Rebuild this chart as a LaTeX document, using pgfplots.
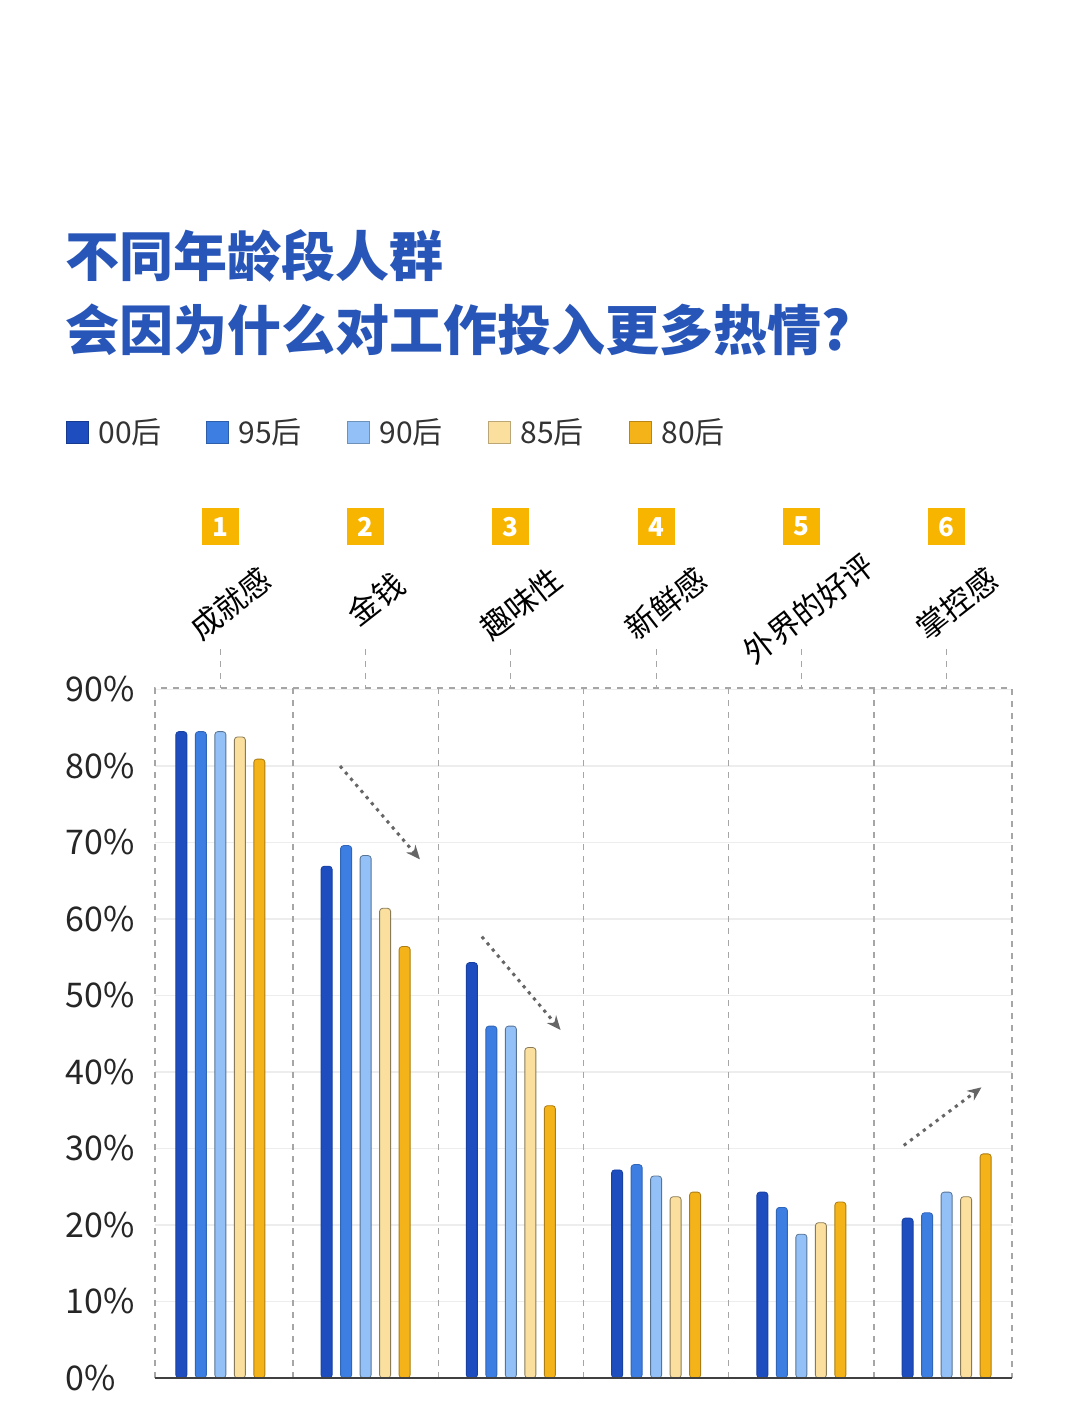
\documentclass[border=0pt]{standalone}
\usepackage{pgfplots}
\pgfplotsset{compat=1.18}
\usepackage{fontspec}
\setmainfont{Noto Sans CJK SC}
\usetikzlibrary{arrows.meta}
\definecolor{c00}{HTML}{1E4DBF}
\definecolor{c95}{HTML}{3D7EE3}
\definecolor{c90}{HTML}{93C1F7}
\definecolor{c85}{HTML}{FADF9E}
\definecolor{c80}{HTML}{F5B31A}
\definecolor{titleblue}{HTML}{2856B8}
\definecolor{numyellow}{HTML}{F7B500}
\begin{document}
\begin{tikzpicture}
\path[use as bounding box] (0,0) rectangle (540pt,708.5pt);
% title
\node[anchor=west, inner sep=0, text=titleblue, font=\bfseries\fontsize{27}{27}\selectfont] at (32.5pt,580.5pt) {不同年龄段人群};
\node[anchor=west, inner sep=0, text=titleblue, font=\bfseries\fontsize{27}{27}\selectfont] at (32.5pt,543.5pt) {会因为什么对工作投入更多热情?};
% legend
\foreach \x/\c/\t in {33/c00/00后, 103/c95/95后, 173.5/c90/90后, 244/c85/85后, 314.5/c80/80后}{
  \draw[fill=\c, draw=\c!75!black, line width=0.4pt] (\x pt,487pt) rectangle ++(11pt,11pt);
  \node[anchor=west, inner sep=0, font=\fontsize{15}{15}\selectfont, text=black!80] at (\x pt+16pt,492.5pt) {\t};
}
\begin{axis}[
  at={(77.5pt,19.5pt)}, anchor=south west,
  scale only axis, width=428.5pt, height=345pt,
  xmin=-0.45, xmax=5.45, ymin=0, ymax=90.2,
  axis line style={draw=none},
  xtick=\empty,
  ytick={0,10,...,90},
  yticklabel={\pgfmathprintnumber{\tick}\%},
  /pgf/number format/assume math mode=true,
  yticklabel style={anchor=west, xshift=-45pt, inner sep=0, font=\fontsize{17}{17}\selectfont, text=black!85},
  major tick length=0pt,
  ymajorgrids, grid style={black!7, line width=0.6pt},
  clip=false,
  ybar=4.25pt, bar width=5.5pt,
]
% frame and dividers
\draw[black!35, dashed, line width=0.6pt] (axis cs:-0.45,0) -- (axis cs:-0.45,90.2) -- (axis cs:5.45,90.2) -- (axis cs:5.45,0);
\draw[black!35, dashed, line width=0.6pt] (axis cs:0.5,0) -- (axis cs:0.5,90.2);
\draw[black!35, dashed, line width=0.6pt] (axis cs:1.5,0) -- (axis cs:1.5,90.2);
\draw[black!35, dashed, line width=0.6pt] (axis cs:2.5,0) -- (axis cs:2.5,90.2);
\draw[black!35, dashed, line width=0.6pt] (axis cs:3.5,0) -- (axis cs:3.5,90.2);
\draw[black!35, dashed, line width=0.6pt] (axis cs:4.5,0) -- (axis cs:4.5,90.2);

\addplot[fill=c00, draw=c00!85!black, line width=0.4pt, rounded corners=1.5pt] coordinates {(0,84.5) (1,66.9) (2,54.3) (3,27.2) (4,24.3) (5,20.9)};
\addplot[fill=c95, draw=c95!80!black, line width=0.4pt, rounded corners=1.5pt] coordinates {(0,84.5) (1,69.6) (2,46.0) (3,27.9) (4,22.3) (5,21.6)};
\addplot[fill=c90, draw=c90!60!black, line width=0.4pt, rounded corners=1.5pt] coordinates {(0,84.5) (1,68.3) (2,46.0) (3,26.4) (4,18.8) (5,24.3)};
\addplot[fill=c85, draw=c85!55!black, line width=0.4pt, rounded corners=1.5pt] coordinates {(0,83.8) (1,61.4) (2,43.2) (3,23.7) (4,20.3) (5,23.7)};
\addplot[fill=c80, draw=c80!70!black, line width=0.4pt, rounded corners=1.5pt] coordinates {(0,80.9) (1,56.4) (2,35.6) (3,24.3) (4,23.0) (5,29.3)};

\draw[black!75, line width=1pt] (axis cs:-0.45,0) -- (axis cs:5.45,0);

% trend arrows
\draw[black!60, dash pattern=on 1.6pt off 2.4pt, line width=1.5pt, -{Stealth[length=7pt,width=6pt]}] (axis cs:0.824,80.0) -- (axis cs:1.374,67.8);
\draw[black!60, dash pattern=on 1.6pt off 2.4pt, line width=1.5pt, -{Stealth[length=7pt,width=6pt]}] (axis cs:1.80,57.7) -- (axis cs:2.342,45.5);
\draw[black!60, dash pattern=on 1.6pt off 2.4pt, line width=1.5pt, -{Stealth[length=7pt,width=6pt]}] (axis cs:4.705,30.4) -- (axis cs:5.24,38.0);

% category headers
\node[fill=numyellow, minimum size=18.5pt, inner sep=0, text=white, font=\bfseries\fontsize{13}{13}\selectfont] at (axis cs:0,111.3) {1};
\node[fill=numyellow, minimum size=18.5pt, inner sep=0, text=white, font=\bfseries\fontsize{13}{13}\selectfont] at (axis cs:1,111.3) {2};
\node[fill=numyellow, minimum size=18.5pt, inner sep=0, text=white, font=\bfseries\fontsize{13}{13}\selectfont] at (axis cs:2,111.3) {3};
\node[fill=numyellow, minimum size=18.5pt, inner sep=0, text=white, font=\bfseries\fontsize{13}{13}\selectfont] at (axis cs:3,111.3) {4};
\node[fill=numyellow, minimum size=18.5pt, inner sep=0, text=white, font=\bfseries\fontsize{13}{13}\selectfont] at (axis cs:4,111.3) {5};
\node[fill=numyellow, minimum size=18.5pt, inner sep=0, text=white, font=\bfseries\fontsize{13}{13}\selectfont] at (axis cs:5,111.3) {6};

\node[rotate=38, inner sep=0, font=\fontsize{15.5}{15.5}\selectfont] at (axis cs:0.07,101.2) {成就感};
\node[rotate=38, inner sep=0, font=\fontsize{15.5}{15.5}\selectfont] at (axis cs:1.07,101.8) {金钱};
\node[rotate=38, inner sep=0, font=\fontsize{15.5}{15.5}\selectfont] at (axis cs:2.07,101.2) {趣味性};
\node[rotate=38, inner sep=0, font=\fontsize{15.5}{15.5}\selectfont] at (axis cs:3.07,101.2) {新鲜感};
\node[rotate=38, inner sep=0, font=\fontsize{15.5}{15.5}\selectfont] at (axis cs:4.05,100.6) {外界的好评};
\node[rotate=38, inner sep=0, font=\fontsize{15.5}{15.5}\selectfont] at (axis cs:5.07,101.2) {掌控感};

\draw[black!35, dashed, line width=0.6pt] (axis cs:0,95.3) -- (axis cs:0,90.2);
\draw[black!35, dashed, line width=0.6pt] (axis cs:1,95.3) -- (axis cs:1,90.2);
\draw[black!35, dashed, line width=0.6pt] (axis cs:2,95.3) -- (axis cs:2,90.2);
\draw[black!35, dashed, line width=0.6pt] (axis cs:3,95.3) -- (axis cs:3,90.2);
\draw[black!35, dashed, line width=0.6pt] (axis cs:4,95.3) -- (axis cs:4,90.2);
\draw[black!35, dashed, line width=0.6pt] (axis cs:5,95.3) -- (axis cs:5,90.2);
\end{axis}
\end{tikzpicture}
\end{document}
